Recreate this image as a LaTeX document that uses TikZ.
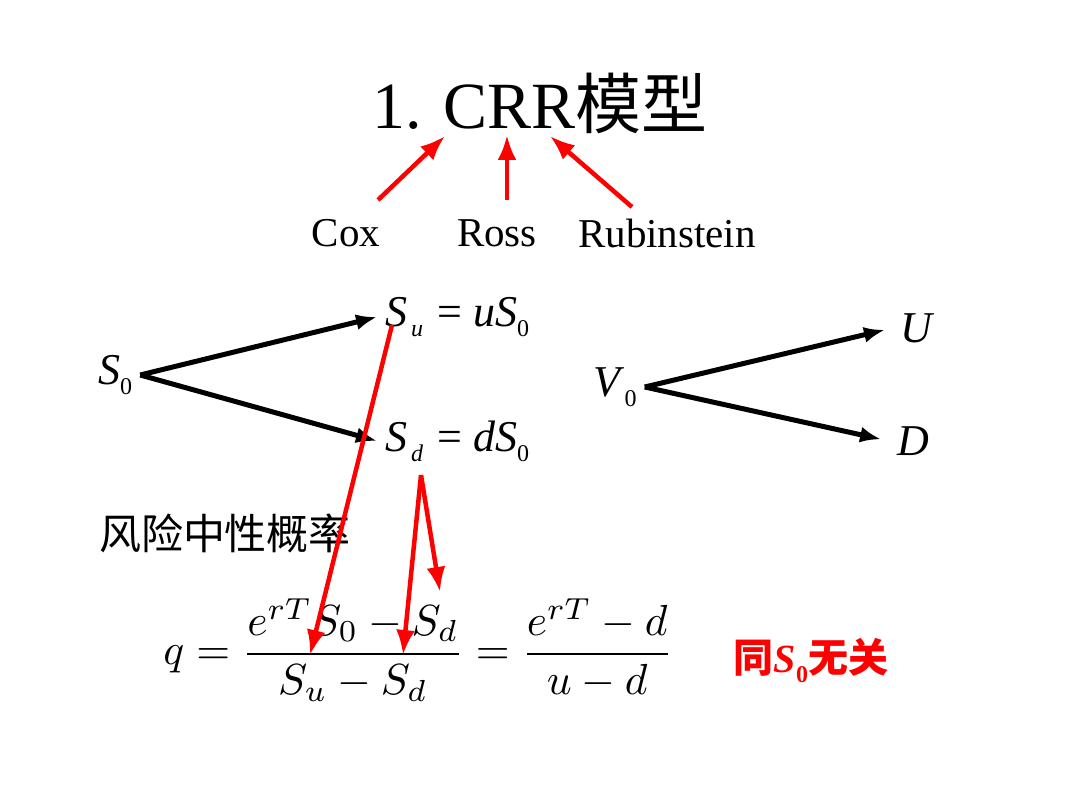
\documentclass[tikz,border=0pt]{standalone}
\usepackage[no-math]{fontspec}
\usepackage{graphicx}
\setmainfont{Liberation Serif}
\newfontfamily\cjk{Noto Sans CJK SC}
\usetikzlibrary{arrows.meta}
\newcommand{\lsub}[1]{\raisebox{-10pt}{\fontsize{24}{26}\selectfont #1}}
\tikzset{
  blk/.style={line width=5pt,-{Latex[length=21pt,width=16pt]}},
  redarr/.style={red,line width=4.5pt,-{Latex[length=25pt,width=19pt]}},
  who/.style={inner sep=3pt,font=\fontsize{41}{46}\selectfont},
  val/.style={inner sep=8pt,font=\fontsize{44}{50}\selectfont},
}
\begin{document}
\begin{tikzpicture}[x=1pt,y=-1pt]
\useasboundingbox (0,0) rectangle (1080,810);
% title and the three names
\node[font=\fontsize{66}{72}\selectfont\rmfamily] (title) at (540,103) {1. CRR{\cjk 模型}};
\node[who] (cox) at (346,233) {Cox};
\node[who] (ross) at (497,233) {Ross};
\node[who] (rub) at (667,233) {Rubinstein};
\coordinate (coxtail) at (378,200);
\coordinate (coxtip) at (445,136);
\coordinate (rosstail) at (507,200);
\coordinate (rosstip) at (507,135);
\coordinate (rubtail) at (632,207);
\coordinate (rubtip) at (550,136);
\draw[redarr] (coxtail) -- (coxtip);
\draw[redarr] (rosstail) -- (rosstip);
\draw[redarr] (rubtail) -- (rubtip);
% one-step tree of the stock
\node[val] (s0) at (115,375) {\textit{S}\lsub{0}};
\node[val,anchor=west] (su) at (377,317) {\textit{S}\lsub{\,\textit{u}}\hspace{14pt}= \textit{uS}\lsub{0}};
\node[val,anchor=west] (sd) at (377,441) {\textit{S}\lsub{\,\textit{d}}\hspace{14pt}= \textit{dS}\lsub{0}};
\draw[blk] (s0.east) -- (su.west);
\draw[blk] (s0.east) -- (sd.west);
% tree of the option
\node[val] (v0) at (615,387) {\textit{V}\lsub{0}};
\node[val] (up) at (918,328) {\textit{U}};
\node[val] (dn) at (913,441) {\textit{D}};
\draw[blk,shorten >=8pt] (v0.east) -- (up.west);
\draw[blk,shorten >=8pt] (v0.east) -- (dn.west);
% risk neutral probability
\node[font=\fontsize{42}{48}\selectfont\cjk] (rnp) at (225,533) {风险中性概率};
\node (q) at (418,650)
  {\scalebox{4.35}{$\displaystyle q=\frac{e^{rT}S_0-S_d}{S_u-S_d}=\frac{e^{rT}-d}{u-d}$}};
\node[red,font=\fontsize{40}{46}\selectfont\bfseries] (indep) at (811,660)
  {{\cjk 同}\textit{S}\lsub{\textbf{0}}{\cjk 无关}};
\coordinate (sutail) at (392,325);
\coordinate (sutip) at (310,655);
\coordinate (sdtail) at (421,475);
\coordinate (sdtip) at (403,655);
\coordinate (sdtop) at (440,592);
\draw[redarr] (sutail) -- (sutip);
\draw[redarr] (sdtail) -- (sdtip);
\draw[redarr] (sdtail) -- (sdtop);
\end{tikzpicture}
\end{document}
